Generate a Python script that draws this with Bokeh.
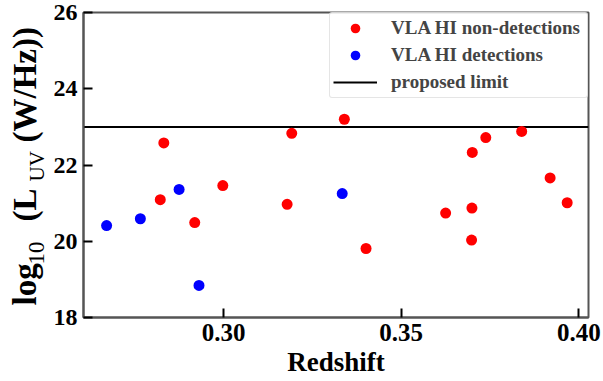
from bokeh.plotting import figure
from bokeh.layouts import row
from bokeh.models import Range1d, Legend, LegendItem, FixedTicker, NumeralTickFormatter
from bokeh.core.properties import value
from bokeh.embed import file_html
from bokeh.resources import INLINE
from math import pi

# Data
red_z = [0.2832, 0.2822, 0.2919, 0.2998, 0.3179, 0.3192, 0.3340, 0.3401,
         0.3625, 0.3699, 0.3698, 0.3700, 0.3738, 0.3839, 0.3919, 0.3967]
red_L = [22.58, 21.09, 20.49, 21.46, 20.97, 22.83, 23.20, 19.81,
         20.74, 20.87, 20.03, 22.33, 22.72, 22.88, 21.66, 21.01]
blue_z = [0.2671, 0.2766, 0.2875, 0.2931, 0.3334]
blue_L = [20.41, 20.59, 21.36, 18.84, 21.25]
limit = [23.0]
x_lim = [0.2606, 0.4027]
y_lim = [18, 26]
x_ticks = [0.30, 0.35, 0.40]
y_ticks = [18, 20, 22, 24, 26]
labels = ["VLA HI non-detections", "VLA HI detections", "proposed limit"]
x_title = "Redshift"

SERIF = "Liberation Serif"
H = 381
LW = 50
TOP, BOTTOM = 12, 64

p = figure(width=603 - LW, height=H, output_backend="svg", toolbar_location=None,
           x_range=Range1d(*x_lim), y_range=Range1d(*y_lim),
           min_border_left=32, min_border_right=15, min_border_top=TOP,
           min_border_bottom=BOTTOM)
p.background_fill_color = "white"
p.border_fill_color = "white"
p.grid.visible = False
p.outline_line_color = "#555555"
p.outline_line_width = 2

for ax in (p.xaxis[0], p.yaxis[0]):
    ax.axis_line_color = "#555555"
    ax.axis_line_width = 2
    ax.major_tick_line_color = "black"
    ax.major_tick_line_width = 2
    ax.major_tick_in = 9
    ax.major_tick_out = 0
    ax.minor_tick_line_color = None
    ax.major_label_text_font = SERIF
    ax.major_label_text_font_style = "bold"
    ax.major_label_text_color = "black"

p.xaxis.ticker = FixedTicker(ticks=x_ticks)
p.xaxis.formatter = NumeralTickFormatter(format="0.00")
p.xaxis.major_label_text_font_size = "25px"
p.xaxis.major_label_standoff = 6
p.xaxis.axis_label = x_title
p.xaxis.axis_label_text_font = SERIF
p.xaxis.axis_label_text_font_style = "bold"
p.xaxis.axis_label_text_font_size = "27px"
p.xaxis.axis_label_text_color = "black"
p.xaxis.axis_label_standoff = 3
p.yaxis.ticker = FixedTicker(ticks=y_ticks)
p.yaxis.major_label_text_font_size = "24px"
p.yaxis.major_label_standoff = 6

r_lim = p.line(x=x_lim, y=[limit[0], limit[0]], line_color="black", line_width=2)
r_red = p.scatter(red_z, red_L, size=11, fill_color="#ff0000", line_color=None)
r_blue = p.scatter(blue_z, blue_L, size=11, fill_color="#0000ff", line_color=None)

legend = Legend(items=[LegendItem(label=labels[0], renderers=[r_red]),
                       LegendItem(label=labels[1], renderers=[r_blue]),
                       LegendItem(label=labels[2], renderers=[r_lim])],
                location="top_right", margin=0, padding=3, spacing=3,
                glyph_width=44, glyph_height=24, label_standoff=14,
                label_width=193, label_height=24,
                label_text_font=SERIF, label_text_font_style="bold",
                label_text_font_size="19px",
                border_line_color="#cccccc", border_line_width=1,
                border_radius=3, background_fill_alpha=0.8)
p.add_layout(legend)

# Left strip carrying the y-axis title (with subscripts).
# Its frame is aligned with the main frame, so data units = canvas pixels.
lf = figure(width=LW, height=H, output_backend="svg", toolbar_location=None,
            x_axis_type=None, y_axis_type=None,
            min_border_left=0, min_border_right=0,
            min_border_top=TOP, min_border_bottom=BOTTOM,
            x_range=Range1d(0, LW), y_range=Range1d(BOTTOM, H - TOP))
lf.outline_line_color = None
lf.grid.visible = False
lf.background_fill_color = "white"
lf.border_fill_color = "white"

pieces = [("log", 24, 305, "33px", "bold"),
          ("10", 36, 264, "23px", "normal"),
          ("(L", 24, 221, "33px", "bold"),
          ("UV", 36, 181, "21px", "normal"),
          ("(W/Hz))", 24, 142, "33px", "bold")]
for txt, cx, cy, fs, st in pieces:
    lf.text(x=[cx], y=[H - cy], text=[txt], angle=pi / 2,
            text_font=value(SERIF), text_font_style=st, text_font_size=fs,
            text_color="black", text_align="left", text_baseline="alphabetic")

layout = row(lf, p, spacing=0)
open("out.html", "w").write(file_html(layout, INLINE))
